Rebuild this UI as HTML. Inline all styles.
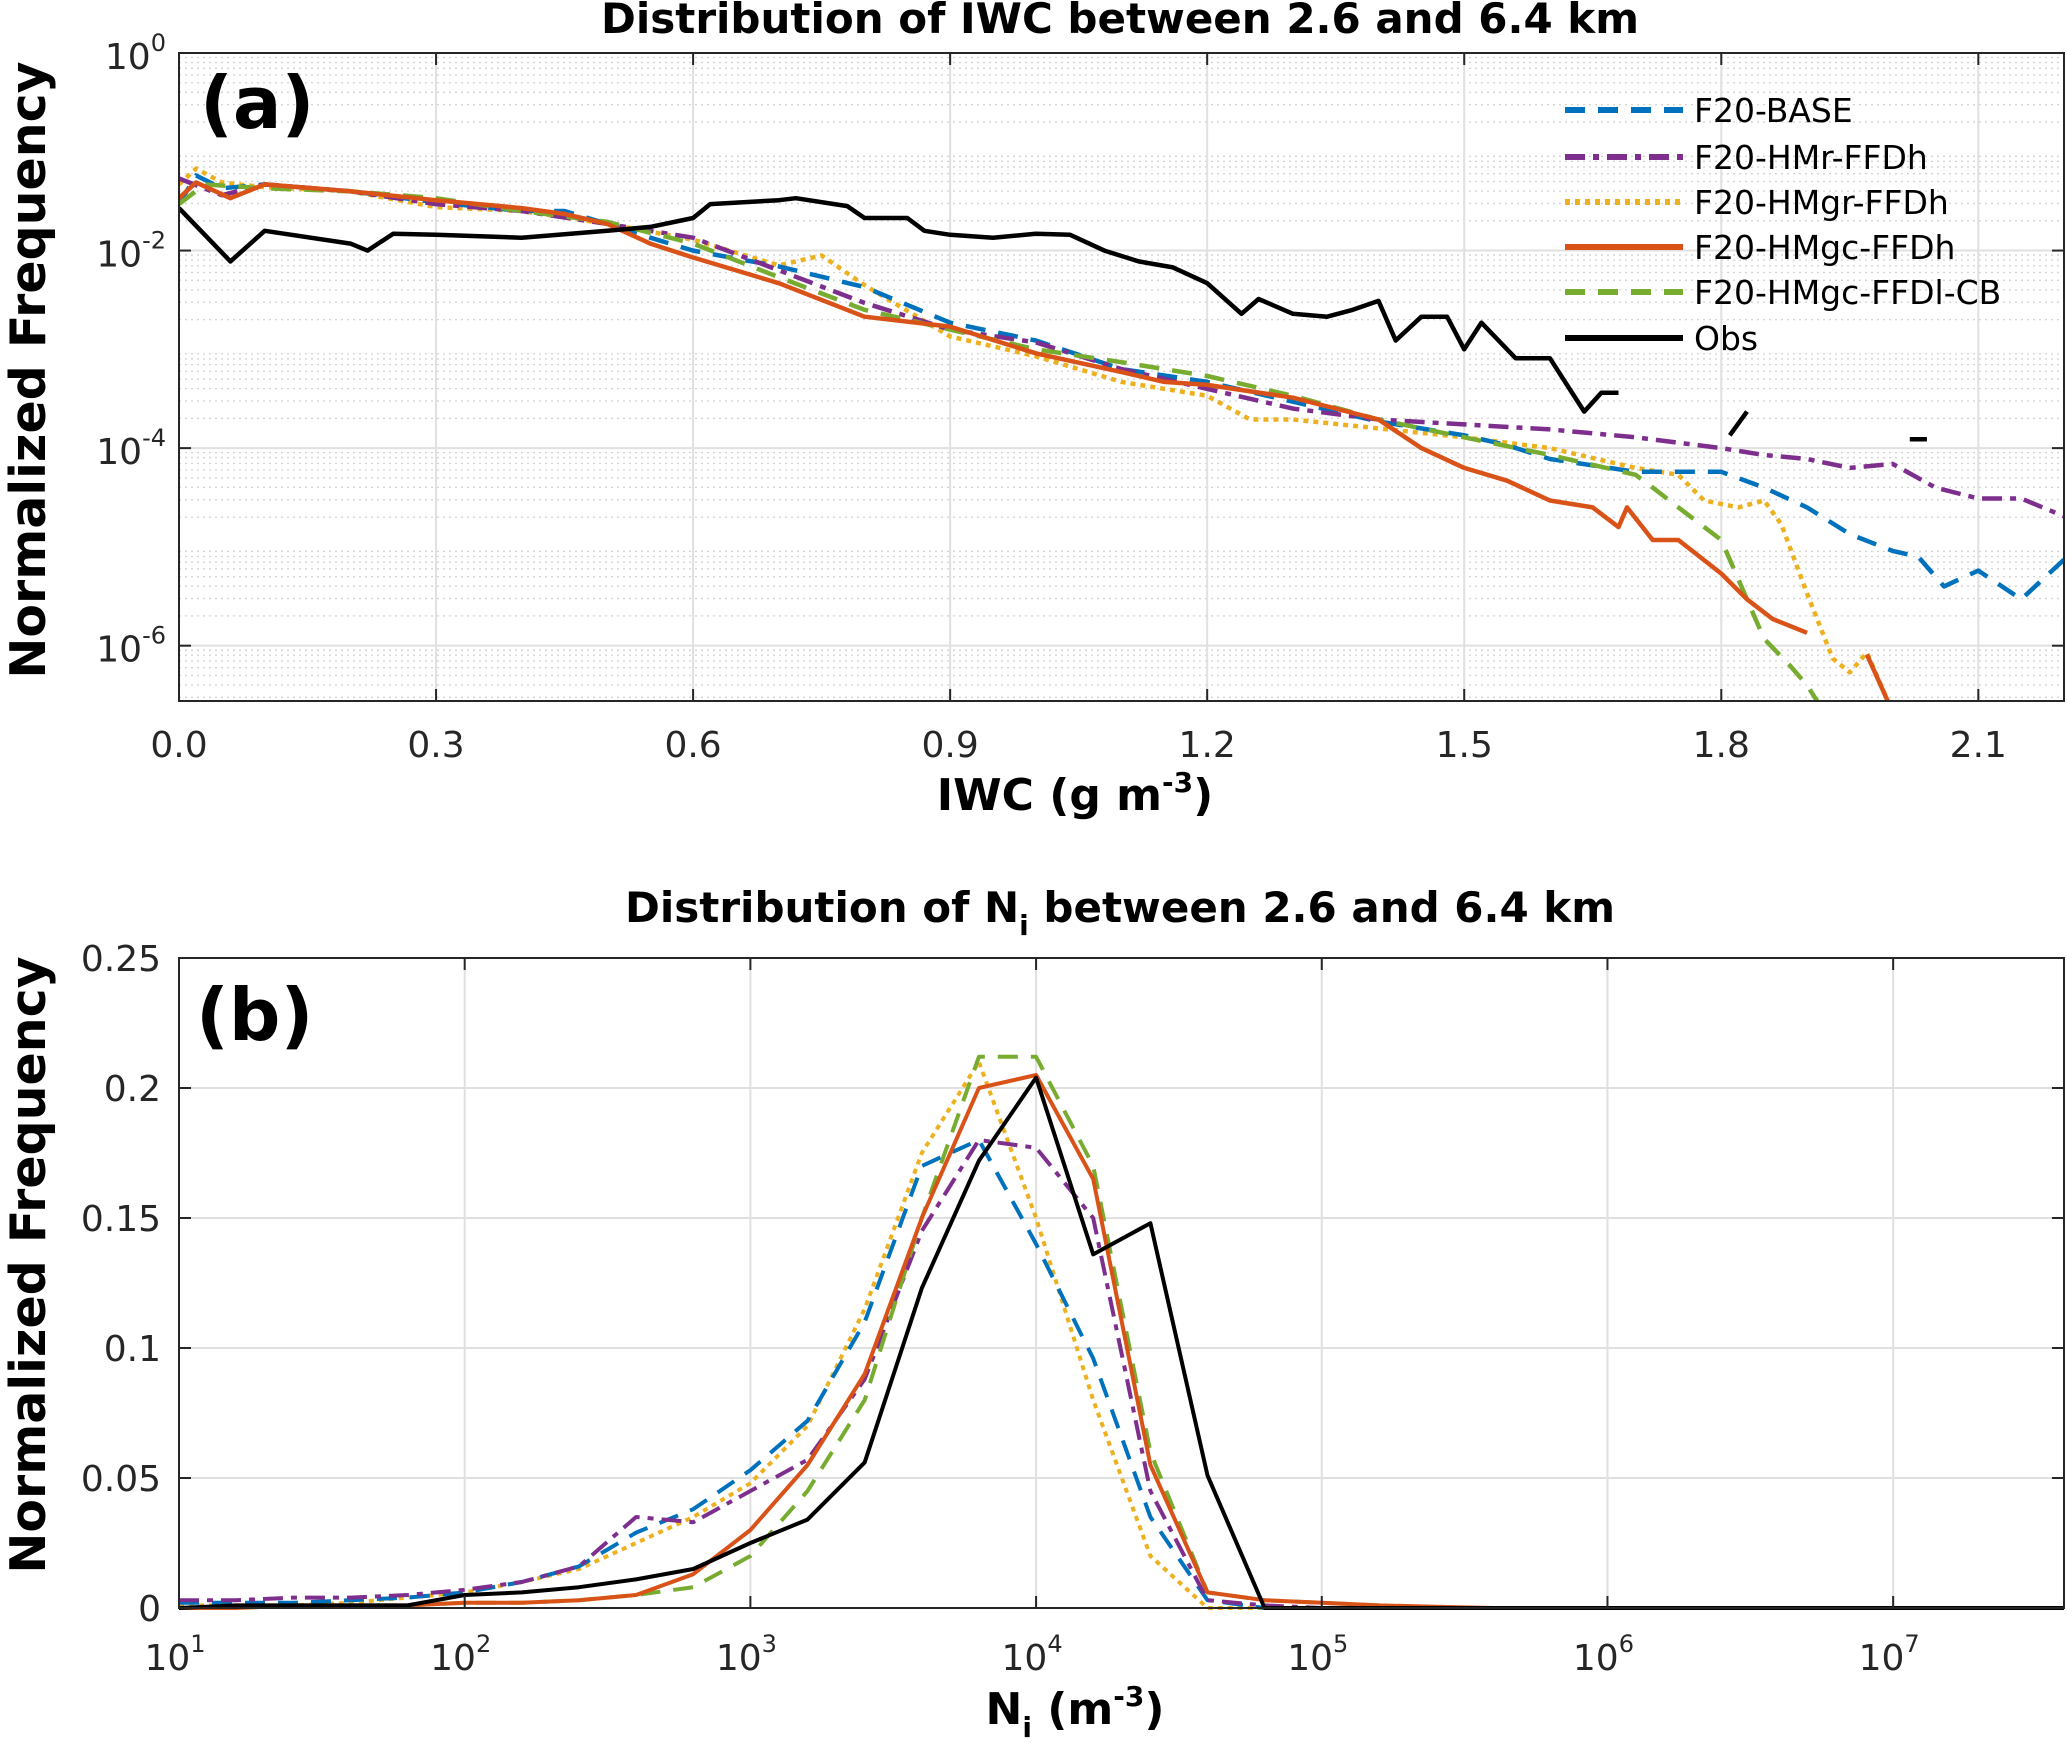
<!DOCTYPE html>
<html><head><meta charset="utf-8"><style>
html,body{margin:0;padding:0;background:#fff;}
svg{display:block;font-family:"DejaVu Sans","Liberation Sans",sans-serif;}
</style></head><body>
<svg id="fig" width="2067" height="1743" viewBox="0 0 2067 1743" xmlns="http://www.w3.org/2000/svg">
<g id="pa"></g>
<g id="pb"></g>
</svg>
<script>
// ---------- Panel (a) data: IWC (g m^-3) vs log10 normalized frequency ----------
const obsX = [0,0.06,0.1,0.2,0.22,0.25,0.3,0.4,0.5,0.55,0.6,0.62,0.7,0.72,0.78,0.8,0.85,0.87,0.9,0.95,1.0,1.04,1.08,1.12,1.16,1.2,1.24,1.26,1.3,1.34,1.37,1.4,1.42,1.45,1.48,1.5,1.52,1.56,1.6,1.62,1.64,1.66,1.68];
const obsLog = [-1.57,-2.11,-1.8,-1.93,-2.0,-1.83,-1.84,-1.87,-1.8,-1.76,-1.67,-1.53,-1.49,-1.47,-1.55,-1.67,-1.67,-1.8,-1.84,-1.87,-1.83,-1.84,-2.0,-2.11,-2.17,-2.33,-2.64,-2.49,-2.64,-2.67,-2.6,-2.51,-2.91,-2.67,-2.67,-3.0,-2.73,-3.09,-3.09,-3.36,-3.63,-3.44,-3.44];
const obsExtraX = [[1.81,1.83],[2.02,2.04]];
const obsExtraLog = [[-3.87,-3.63],[-3.91,-3.91]];

const baseX = [0,0.02,0.05,0.1,0.2,0.3,0.4,0.45,0.5,0.55,0.6,0.7,0.8,0.9,1.0,1.1,1.2,1.3,1.4,1.5,1.55,1.6,1.7,1.8,1.85,1.9,1.95,2.0,2.03,2.06,2.1,2.15,2.2];
const baseLog = [-1.53,-1.24,-1.37,-1.33,-1.4,-1.51,-1.6,-1.6,-1.73,-1.87,-2.0,-2.16,-2.37,-2.73,-2.91,-3.2,-3.33,-3.53,-3.73,-3.87,-3.97,-4.11,-4.24,-4.24,-4.4,-4.6,-4.87,-5.04,-5.1,-5.4,-5.24,-5.53,-5.13];

const hmrX = [0,0.05,0.1,0.2,0.3,0.4,0.5,0.6,0.7,0.8,0.9,1.0,1.1,1.2,1.3,1.4,1.5,1.6,1.7,1.8,1.85,1.9,1.95,2.0,2.05,2.1,2.15,2.2];
const hmrLog = [-1.27,-1.44,-1.33,-1.4,-1.53,-1.6,-1.73,-1.87,-2.2,-2.53,-2.8,-2.93,-3.2,-3.4,-3.6,-3.71,-3.76,-3.81,-3.89,-4.0,-4.07,-4.11,-4.2,-4.16,-4.4,-4.51,-4.51,-4.69];

const hmgrX = [0,0.02,0.05,0.1,0.2,0.3,0.4,0.5,0.6,0.7,0.75,0.8,0.9,1.0,1.1,1.2,1.25,1.3,1.4,1.5,1.6,1.7,1.75,1.78,1.82,1.85,1.87,1.9,1.93,1.95,1.97,2.0];
const hmgrLog = [-1.33,-1.17,-1.31,-1.36,-1.4,-1.56,-1.6,-1.73,-1.89,-2.15,-2.05,-2.35,-2.87,-3.07,-3.33,-3.47,-3.71,-3.71,-3.8,-3.89,-4.0,-4.2,-4.27,-4.53,-4.6,-4.53,-4.77,-5.47,-6.13,-6.27,-6.07,-6.67];

const hmgcX = [0,0.02,0.06,0.1,0.2,0.3,0.4,0.45,0.5,0.55,0.6,0.7,0.8,0.9,1.0,1.1,1.15,1.2,1.3,1.4,1.45,1.5,1.55,1.6,1.65,1.68,1.69,1.72,1.75,1.8,1.83,1.86,1.9,1.95,1.97,2.0];
const hmgcLog = [-1.47,-1.31,-1.47,-1.33,-1.4,-1.49,-1.57,-1.63,-1.73,-1.93,-2.07,-2.33,-2.67,-2.77,-3.04,-3.23,-3.33,-3.36,-3.49,-3.71,-4.0,-4.2,-4.33,-4.53,-4.6,-4.8,-4.6,-4.93,-4.93,-5.27,-5.53,-5.73,-5.87,null,-6.09,-6.67];

const cbX = [0,0.03,0.1,0.2,0.3,0.4,0.5,0.6,0.7,0.8,0.9,1.0,1.1,1.2,1.3,1.4,1.5,1.6,1.7,1.72,1.75,1.8,1.82,1.85,1.88,1.9,1.92];
const cbLog = [-1.53,-1.33,-1.37,-1.4,-1.47,-1.6,-1.71,-1.93,-2.27,-2.6,-2.8,-3.0,-3.13,-3.27,-3.47,-3.71,-3.89,-4.07,-4.27,-4.4,-4.6,-4.93,-5.33,-5.93,-6.2,-6.4,-6.67];

const aXTicks = [0.0,0.3,0.6,0.9,1.2,1.5,1.8,2.1];
const aXTickLabels = ["0.0","0.3","0.6","0.9","1.2","1.5","1.8","2.1"];
const aYTicks = [0,-2,-4,-6];
const aYTickExp = ["0","-2","-4","-6"];

// ---------- Panel (b) data: log10(Ni) vs normalized frequency ----------
const bLogNi = [1.0,1.2,1.4,1.6,1.8,2.0,2.2,2.4,2.6,2.8,3.0,3.2,3.4,3.6,3.8,4.0,4.2,4.4,4.6,4.8,5.0,5.2,5.4,5.6,5.8,6.0,7.6];
const bObs  = [0,0.001,0.001,0.001,0.001,0.005,0.006,0.008,0.011,0.015,0.025,0.034,0.056,0.123,0.172,0.204,0.136,0.148,0.051,0,0,0,0,0,0,0,0];
const bBase = [0.002,0.002,0.002,0.003,0.004,0.006,0.010,0.016,0.029,0.038,0.053,0.072,0.110,0.170,0.180,0.140,0.096,0.035,0.003,0,0,0,0,0,0,0,0];
const bHmr  = [0.003,0.003,0.004,0.004,0.005,0.007,0.010,0.016,0.035,0.033,0.045,0.057,0.088,0.145,0.180,0.177,0.150,0.045,0.003,0.001,0,0,0,0,0,0,0];
const bHmgr = [0.001,0.001,0.001,0.002,0.004,0.006,0.010,0.015,0.025,0.035,0.048,0.070,0.115,0.175,0.210,0.150,0.080,0.020,0,0,0,0,0,0,0,0,0];
const bHmgc = [0,0,0.001,0.001,0.001,0.002,0.002,0.003,0.005,0.013,0.030,0.055,0.090,0.150,0.200,0.205,0.165,0.055,0.006,0.003,0.002,0.001,0.0005,0,0,0,0];
const bCb   = [0,0,0.001,0.001,0.001,0.002,0.002,0.003,0.005,0.008,0.020,0.045,0.080,0.150,0.212,0.212,0.170,0.060,0.006,0.003,0.002,0.001,0,0,0,0,0];
const bXTickExp = ["1","2","3","4","5","6","7"];
const bYTicks = [0,0.05,0.1,0.15,0.2,0.25];
const bYTickLabels = ["0","0.05","0.1","0.15","0.2","0.25"];

const NS = "http://www.w3.org/2000/svg";
function mk(parent, tag, attrs){ const e=document.createElementNS(NS,tag); for(const k in attrs) e.setAttribute(k,attrs[k]); parent.appendChild(e); return e; }

const styles = {
  base:{stroke:"#0072BD", dash:"20 13"},
  hmr:{stroke:"#7E2F8E", dash:"20 8 6 8"},
  hmgr:{stroke:"#EDB120", dash:"5 5"},
  hmgc:{stroke:"#D95319", dash:""},
  cb:{stroke:"#77AC30", dash:"20 13"},
  obs:{stroke:"#000000", dash:""}
};

// ===== Panel A =====
const A = {l:179,r:2064,t:53,b:701,xmin:0,xmax:2.2,ymin:-6.56,ymax:0};
const ax = v => A.l + (v-A.xmin)/(A.xmax-A.xmin)*(A.r-A.l);
const ay = v => A.t + (A.ymax-v)/(A.ymax-A.ymin)*(A.b-A.t);
const pa = document.getElementById('pa');
const defs = mk(document.getElementById('fig'),'defs',{});
const cpA = mk(defs,'clipPath',{id:'clipA'}); mk(cpA,'rect',{x:A.l,y:A.t,width:A.r-A.l,height:A.b-A.t});
const cpB = mk(defs,'clipPath',{id:'clipB'});

const gridA = mk(pa,'g',{});


for(let d=0; d>=-7; d--){
  for(let m=2;m<=9;m++){
    const v=d-1+Math.log10(m);
    if(v<A.ymin||v>A.ymax) continue;
    mk(gridA,'line',{x1:A.l,x2:A.r,y1:ay(v),y2:ay(v),stroke:"#d4d4d4","stroke-width":1.3,"stroke-dasharray":"2 4"});
  }
}
aYTicks.forEach(v=>mk(gridA,'line',{x1:A.l,x2:A.r,y1:ay(v),y2:ay(v),stroke:"#e0e0e0","stroke-width":2}));
aXTicks.forEach(v=>mk(gridA,'line',{x1:ax(v),x2:ax(v),y1:A.t,y2:A.b,stroke:"#e0e0e0","stroke-width":2}));

function drawSeriesLog(g, xs, ys, st, name){
  let d="", pen=false;
  xs.forEach((x,i)=>{ const y=ys[i]; if(y===null){pen=false;return;} d+=(pen?"L":"M")+ax(x).toFixed(1)+","+ay(y).toFixed(1); pen=true; });
  const p = mk(g,'path',{d:d,fill:"none",stroke:st.stroke,"stroke-width":4.5,"stroke-dasharray":st.dash,"stroke-linejoin":"round"});
  
  
  return p;
}
const serA = mk(pa,'g',{"clip-path":"url(#clipA)"});
drawSeriesLog(serA,hmgrX,hmgrLog,styles.hmgr,'series-hmgr-ffdh-a');
drawSeriesLog(serA,baseX,baseLog,styles.base,'series-base-a');
drawSeriesLog(serA,hmrX,hmrLog,styles.hmr,'series-hmr-ffdh-a');
drawSeriesLog(serA,cbX,cbLog,styles.cb,'series-hmgc-ffdl-cb-a');
drawSeriesLog(serA,hmgcX,hmgcLog,styles.hmgc,'series-hmgc-ffdh-a');
drawSeriesLog(serA,obsX,obsLog,styles.obs,'series-obs-a');
obsExtraX.forEach((xs,i)=>drawSeriesLog(serA,xs,obsExtraLog[i],styles.obs,'series-obs-fragment-a'));

mk(pa,'rect',{x:A.l,y:A.t,width:A.r-A.l,height:A.b-A.t,fill:"none",stroke:"#262626","stroke-width":2});
aXTicks.forEach((v,i)=>{
  mk(pa,'line',{x1:ax(v),x2:ax(v),y1:A.b,y2:A.b-12,stroke:"#262626","stroke-width":2});
  mk(pa,'line',{x1:ax(v),x2:ax(v),y1:A.t,y2:A.t+12,stroke:"#262626","stroke-width":2});
  const t=mk(pa,'text',{x:ax(v),y:757,"text-anchor":"middle","font-size":36,fill:"#262626"});
  t.textContent=aXTickLabels[i];
  
  
});
aYTicks.forEach((v,i)=>{
  mk(pa,'line',{x1:A.l,x2:A.l+12,y1:ay(v),y2:ay(v),stroke:"#262626","stroke-width":2});
  mk(pa,'line',{x1:A.r,x2:A.r-12,y1:ay(v),y2:ay(v),stroke:"#262626","stroke-width":2});
  const t=mk(pa,'text',{x:166,y:ay(v)+16,"text-anchor":"end","font-size":36,fill:"#262626"});
  
  
  const b=mk(t,'tspan',{}); b.textContent="10";
  const s=mk(t,'tspan',{dy:-18,"font-size":24}); s.textContent=aYTickExp[i];
});
// titles
let t=mk(pa,'text',{x:1120,y:33,"text-anchor":"middle","font-size":42,"font-weight":"bold",fill:"#000"});
t.textContent="Distribution of IWC between 2.6 and 6.4 km";
 
t=mk(pa,'text',{x:1075,y:810,"text-anchor":"middle","font-size":44,"font-weight":"bold",fill:"#000"});
 
mk(t,'tspan',{}).textContent="IWC (g m";
mk(t,'tspan',{dy:-18,"font-size":28}).textContent="-3";
mk(t,'tspan',{dy:18}).textContent=")";
t=mk(pa,'text',{x:0,y:0,transform:"translate(45,370) rotate(-90)","text-anchor":"middle","font-size":49,"font-weight":"bold",fill:"#000"});
t.textContent="Normalized Frequency";
 
t=mk(pa,'text',{x:200,y:128,"font-size":72,"font-weight":"bold",fill:"#000"});
t.textContent="(a)";
 

// legend
const legNames=["F20-BASE","F20-HMr-FFDh","F20-HMgr-FFDh","F20-HMgc-FFDh","F20-HMgc-FFDl-CB","Obs"];
const legKeys=["base","hmr","hmgr","hmgc","cb","obs"];
const legY=[110,157,202,247,292,338];
const leg=mk(pa,'g',{});
 
legNames.forEach((n,i)=>{
  const st=styles[legKeys[i]];
  const e=mk(leg,'g',{});
   
  mk(e,'line',{x1:1565,x2:1683,y1:legY[i],y2:legY[i],stroke:st.stroke,"stroke-width":6,"stroke-dasharray":st.dash});
  const tx=mk(e,'text',{x:1694,y:legY[i]+12,"font-size":33,fill:"#000"}); tx.textContent=n;
});

// ===== Panel B =====
const B = {l:179,r:2064,t:958,b:1608,xmin:1,xmax:7.598,ymin:0,ymax:0.25};
const bx = v => B.l + (v-B.xmin)/(B.xmax-B.xmin)*(B.r-B.l);
const by = v => B.b - (v-B.ymin)/(B.ymax-B.ymin)*(B.b-B.t);
mk(cpB,'rect',{x:B.l,y:B.t-10,width:B.r-B.l,height:B.b-B.t+12});
const pb=document.getElementById('pb');
const gridB=mk(pb,'g',{});
 
bYTicks.forEach(v=>mk(gridB,'line',{x1:B.l,x2:B.r,y1:by(v),y2:by(v),stroke:"#e0e0e0","stroke-width":2}));
bXTickExp.forEach(e=>{const v=+e; mk(gridB,'line',{x1:bx(v),x2:bx(v),y1:B.t,y2:B.b,stroke:"#e0e0e0","stroke-width":2});});

function drawSeriesLin(g, ys, st, name, w){
  let d="";
  bLogNi.forEach((x,i)=>{ d+=(i?"L":"M")+bx(x).toFixed(1)+","+by(ys[i]).toFixed(1); });
  const p=mk(g,'path',{d:d,fill:"none",stroke:st.stroke,"stroke-width":w||4,"stroke-dasharray":st.dash,"stroke-linejoin":"round"});
  
  
}
const serB=mk(pb,'g',{"clip-path":"url(#clipB)"});
drawSeriesLin(serB,bHmgr,styles.hmgr,'series-hmgr-ffdh-b');
drawSeriesLin(serB,bBase,styles.base,'series-base-b');
drawSeriesLin(serB,bHmr,styles.hmr,'series-hmr-ffdh-b');
drawSeriesLin(serB,bCb,styles.cb,'series-hmgc-ffdl-cb-b');
drawSeriesLin(serB,bHmgc,styles.hmgc,'series-hmgc-ffdh-b');
drawSeriesLin(serB,bObs,styles.obs,'series-obs-b',4);

mk(pb,'rect',{x:B.l,y:B.t,width:B.r-B.l,height:B.b-B.t,fill:"none",stroke:"#262626","stroke-width":2});
bXTickExp.forEach(e=>{
  const v=+e;
  mk(pb,'line',{x1:bx(v),x2:bx(v),y1:B.b,y2:B.b-12,stroke:"#262626","stroke-width":2});
  mk(pb,'line',{x1:bx(v),x2:bx(v),y1:B.t,y2:B.t+12,stroke:"#262626","stroke-width":2});
  const tx=mk(pb,'text',{x:bx(v)-4,y:1670,"text-anchor":"middle","font-size":36,fill:"#262626"});
   
  mk(tx,'tspan',{}).textContent="10";
  mk(tx,'tspan',{dy:-18,"font-size":24}).textContent=e;
});
bYTicks.forEach((v,i)=>{
  mk(pb,'line',{x1:B.l,x2:B.l+12,y1:by(v),y2:by(v),stroke:"#262626","stroke-width":2});
  mk(pb,'line',{x1:B.r,x2:B.r-12,y1:by(v),y2:by(v),stroke:"#262626","stroke-width":2});
  const tx=mk(pb,'text',{x:161,y:by(v)+13,"text-anchor":"end","font-size":36,fill:"#262626"});
  tx.textContent=bYTickLabels[i];
   
});
t=mk(pb,'text',{x:1120,y:922,"text-anchor":"middle","font-size":42,"font-weight":"bold",fill:"#000"});
 
mk(t,'tspan',{}).textContent="Distribution of N";
mk(t,'tspan',{dy:13,"font-size":28}).textContent="i";
mk(t,'tspan',{dy:-13}).textContent=" between 2.6 and 6.4 km";
t=mk(pb,'text',{x:1075,y:1724,"text-anchor":"middle","font-size":44,"font-weight":"bold",fill:"#000"});
 
mk(t,'tspan',{}).textContent="N";
mk(t,'tspan',{dy:13,"font-size":28}).textContent="i";
mk(t,'tspan',{dy:-13}).textContent=" (m";
mk(t,'tspan',{dy:-18,"font-size":28}).textContent="-3";
mk(t,'tspan',{dy:18}).textContent=")";
t=mk(pb,'text',{x:0,y:0,transform:"translate(45,1265) rotate(-90)","text-anchor":"middle","font-size":49,"font-weight":"bold",fill:"#000"});
t.textContent="Normalized Frequency";
 
t=mk(pb,'text',{x:196,y:1040,"font-size":72,"font-weight":"bold",fill:"#000"});
t.textContent="(b)";
 
</script>
</body></html>
